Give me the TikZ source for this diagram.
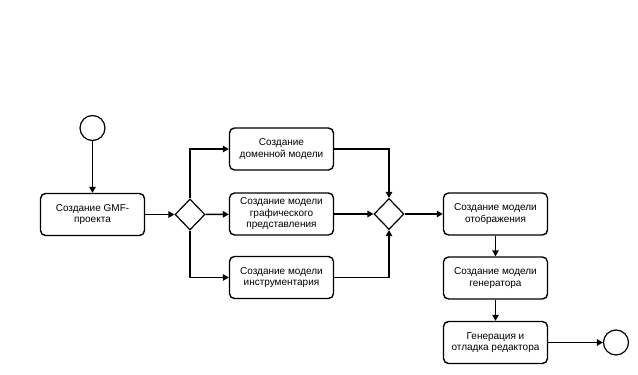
\documentclass[tikz,border=0pt]{standalone}
\usepackage{fontspec}
\setmainfont{Liberation Sans}
\usetikzlibrary{arrows.meta,shapes.geometric}
\begin{document}
\begin{tikzpicture}[x=1pt,y=-1pt,
  proc/.style={draw,line width=1.4pt,rounded corners=5pt,minimum width=104pt,minimum height=42pt,align=center,font=\fontsize{10}{11.5}\selectfont,inner sep=1pt},
  gate/.style={draw,line width=1.2pt,diamond,minimum width=30pt,minimum height=31pt,inner sep=0pt},
  term/.style={draw,line width=1.2pt,circle,minimum size=25pt,inner sep=0pt},
  flow/.style={line width=1.4pt,-{Triangle[length=6pt,width=6.5pt]}},
  lnk/.style={line width=1.4pt}]
\useasboundingbox (0,0) rectangle (638,375);
\node[term] (start) at (92.5,128) {};
\node[proc] (gmf) at (92.5,214.5) {Создание GMF-\\проекта};
\node[gate] (d1) at (190,214.5) {};
\node[proc] (dom) at (281.5,149) {Создание\\доменной модели};
\node[proc] (gr) at (281.5,214) {Создание модели\\графического\\представления};
\node[proc] (ins) at (281.5,277.5) {Создание модели\\инструментария};
\node[gate] (d2) at (389,214) {};
\node[proc] (map) at (495.5,214) {Создание модели\\отображения};
\node[proc] (gen) at (495.5,278) {Создание модели\\генератора};
\node[proc] (dbg) at (495.5,342.5) {Генерация и\\отладка редактора};
\node[term] (end) at (616,342.5) {};
\draw[flow] (start) -- (gmf);
\draw[flow] (gmf) -- (d1);
\draw[flow] (d1.north) |- (dom.west);
\draw[flow] (d1) -- (gr);
\draw[flow] (d1.south) |- (ins.west);
\draw[flow] (dom.east) -| (d2.north);
\draw[flow] (gr) -- (d2);
\draw[flow] (ins.east) -| (d2.south);
\draw[flow] (d2) -- (map);
\draw[flow] (map) -- (gen);
\draw[flow] (gen) -- (dbg);
\draw[flow] (dbg) -- (end);
\end{tikzpicture}
\end{document}
